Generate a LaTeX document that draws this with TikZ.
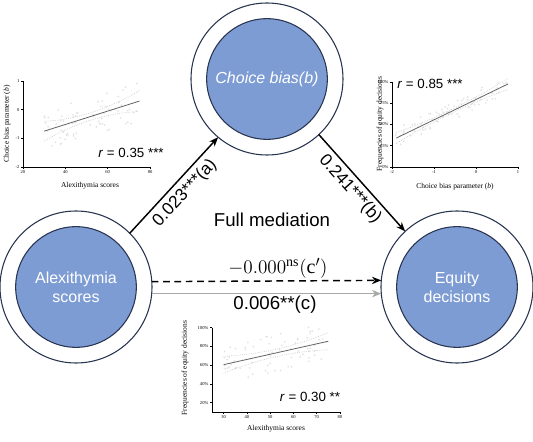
\documentclass[tikz,border=0pt]{standalone}
\usepackage{fontspec}
\setmainfont{Liberation Serif}
\newfontfamily\arial{Liberation Sans}
\usetikzlibrary{arrows.meta}
\definecolor{nodeblue}{RGB}{125,156,212}
\definecolor{navy}{RGB}{40,52,80}
\definecolor{arrowgray}{RGB}{168,168,168}
\definecolor{dotc}{RGB}{228,228,228}
\definecolor{regc}{RGB}{100,100,100}
\definecolor{cic}{RGB}{180,180,180}
\begin{document}
\begin{tikzpicture}[x=0.75pt,y=-0.75pt,
  outerc/.style={circle,draw=navy,line width=0.8pt,fill=white,minimum size=114pt,inner sep=0pt,outer sep=0pt},
  innerc/.style={circle,draw=navy,line width=0.8pt,fill=nodeblue,minimum size=90.5pt,inner sep=0pt,text=white,align=center,font=\arial\fontsize{12}{15}\selectfont},
  arr/.style={line width=1.1pt,-{Stealth[length=7pt,width=5.5pt]}},
  lbl/.style={font=\arial\fontsize{14}{16}\selectfont,inner sep=1pt},
  slbl/.style={font=\arial\fontsize{13}{15}\selectfont,inner sep=1pt},
  rlab/.style={font=\arial\fontsize{10}{12}\selectfont},
  axlab/.style={font=\fontsize{5.6}{6.5}\selectfont},
  ticklab/.style={font=\fontsize{3.4}{4}\selectfont,inner sep=1pt},
  axisline/.style={line width=0.55pt,black},
  regline/.style={line width=0.6pt,regc},
  ciline/.style={line width=0.4pt,cic,densely dotted},
  dot/.style={fill=dotc}
]
\fill[white] (0,0) rectangle (533,442);
\useasboundingbox (0,0) rectangle (533,442);

% ---------- left-top plot ----------
\begin{scope}[shift={(23,167)},x=1.588pt,y=21.5pt]
  \pgfmathsetseed{11}
  \foreach \i in {1,...,70}{
    \pgfmathsetmacro\xx{30+45*rnd}
    \pgfmathsetmacro\yy{-0.75+(\xx-30)*0.02333+1.4*(rnd-0.5)}
    \fill[dot] ({\xx-20},{\yy+2}) circle (0.75pt);
  }
  \draw[ciline] plot[domain=30:75,samples=25] ({\x-20},{-0.75+(\x-30)*0.02333+0.13+0.00044*(\x-52)*(\x-52)+2});
  \draw[ciline] plot[domain=30:75,samples=25] ({\x-20},{-0.75+(\x-30)*0.02333-0.13-0.00044*(\x-52)*(\x-52)+2});
  \draw[regline] (10,1.25) -- (55,2.3);
  \draw[axisline] (0,3) -- (0,0) -- (60,0);
  \foreach \v/\t in {0/-2,1/-1,2/0,3/1}
    \draw[axisline] (0,\v) -- ++(-1.5pt,0) node[left,ticklab]{\t};
  \foreach \v/\t in {0/20,20/40,40/60,60/80}
    \draw[axisline] (\v,0) -- ++(0,-1.5pt) node[below,ticklab]{\t};
\end{scope}
\node[axlab] (lx) at (90,186) {Alexithymia scores};
\node[axlab,rotate=90] (ly) at (7,124) {Choice bias parameter (\textit{b})};
\node[rlab] (lr) at (131,153) {\textit{r} = 0.35 ***};

% ---------- right-top plot ----------
\begin{scope}[shift={(392,167)},x=31.5pt,y=0.6375pt]
  \pgfmathsetseed{5}
  \foreach \i in {1,...,70}{
    \pgfmathsetmacro\xx{-1.95+2.7*rnd}
    \pgfmathsetmacro\yy{min(99,34+(\xx+1.9)*23.9+22*(rnd-0.5))}
    \fill[dot] ({\xx+2},{\yy}) circle (0.75pt);
  }
  \draw[ciline] plot[domain=-1.9:0.76,samples=25] ({\x+2},{34+(\x+1.9)*23.9+2+2.5*(\x+0.57)*(\x+0.57)});
  \draw[ciline] plot[domain=-1.9:0.76,samples=25] ({\x+2},{34+(\x+1.9)*23.9-2-2.5*(\x+0.57)*(\x+0.57)});
  \draw[regline] (0.1,34) -- (2.76,97.6);
  \draw[axisline] (0,100) -- (0,0) -- (3,0);
  \foreach \v in {0,25,50,75,100}
    \draw[axisline] (0,\v) -- ++(-1.5pt,0) node[left,ticklab]{\v\%};
  \foreach \v/\t in {0/-2,1/-1,2/0,3/1}
    \draw[axisline] (\v,0) -- ++(0,-1.5pt) node[below,ticklab]{\t};
\end{scope}
\node[axlab] (rx) at (455,187) {Choice bias parameter (\textit{b})};
\node[axlab,rotate=90] (ry) at (380,124) {Frequencies of equity decisions};
\node[rlab] (rr) at (430,84) {\textit{r} = 0.85 ***};

% ---------- bottom plot ----------
\begin{scope}[shift={(212,412)},x=1.745pt,y=0.703pt]
  \pgfmathsetseed{23}
  \foreach \i in {1,...,70}{
    \pgfmathsetmacro\xx{30+45*rnd}
    \pgfmathsetmacro\yy{60.5+(\xx-30)*0.5556+40*(rnd-0.5)}
    \fill[dot] ({\xx-25},{\yy-10}) circle (0.75pt);
  }
  \draw[ciline] plot[domain=30:75,samples=25] ({\x-25},{60.5+(\x-30)*0.5556+4+0.0099*(\x-52.5)*(\x-52.5)-10});
  \draw[ciline] plot[domain=30:75,samples=25] ({\x-25},{60.5+(\x-30)*0.5556-4-0.0099*(\x-52.5)*(\x-52.5)-10});
  \draw[regline] (5,50.5) -- (50,75.5);
  \draw[axisline] (0,90) -- (0,0) -- (55,0);
  \foreach \v in {20,40,60,80,100}
    \draw[axisline] (0,\v-10) -- ++(-1.5pt,0) node[left,ticklab]{\v\%};
  \foreach \v in {30,40,50,60,70,80}
    \draw[axisline] (\v-25,0) -- ++(0,-1.5pt) node[below,ticklab]{\v};
\end{scope}
\node[axlab] (bx) at (276,429) {Alexithymia scores};
\node[axlab,rotate=90] (by) at (185,368) {Frequencies of equity decisions};
\node[rlab] (br) at (310,397) {\textit{r} = 0.30 **};

% ---------- circles ----------
\node[outerc] (L) at (76,287) {};
\node[innerc] (Lin) at (76,287) {Alexithymia\\[-1pt]scores};
\node[outerc] (T) at (267,79) {};
\node[innerc,font=\arial\itshape\fontsize{12}{15}\selectfont] (Tin) at (267,79) {Choice bias(b)};
\node[outerc] (R) at (457,287) {};
\node[innerc] (Rin) at (457,287) {Equity\\[-1pt]decisions};

% ---------- arrows ----------
\draw[arr] (L.45) -- (T.230);
\draw[arr] (T.313) -- (R.133);
\draw[arr,dash pattern=on 5pt off 3.5pt] (L.4.5) -- (R.175.5);
\draw[arr,arrowgray] (L.-5.3) -- (R.185.3);

\node[slbl,rotate=47] (la) at (185,193) {0.023***(a)};
\node[slbl,rotate=-48.5] (lb) at (350,189) {0.241***(b)};
\node[lbl] (fm) at (272,220) {Full mediation};
\node[font=\fontsize{15}{17}\selectfont] (cp) at (278,268) {$-0.000^{\mathrm{ns}}(\mathrm{c}')$};
\node[lbl] (c) at (275,305) {0.006**(c)};
\end{tikzpicture}
\end{document}
